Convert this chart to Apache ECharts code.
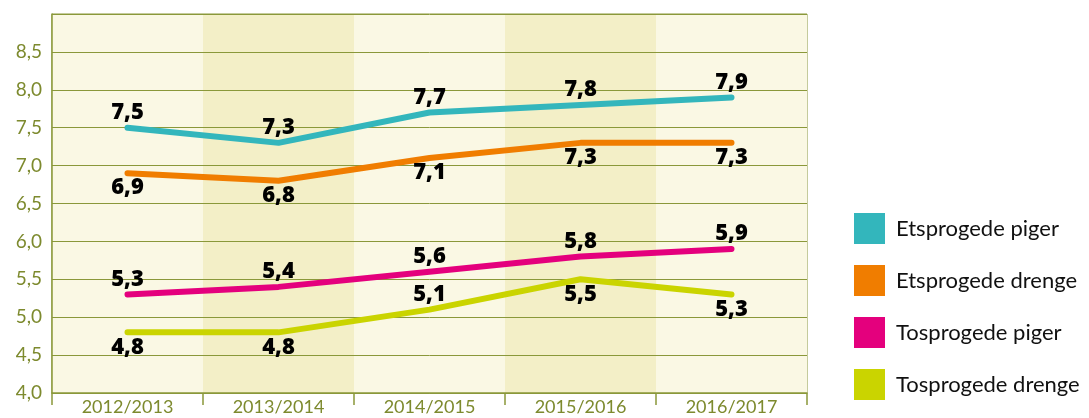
<!DOCTYPE html>
<html>
<head>
<meta charset="utf-8">
<script src="https://cdn.jsdelivr.net/npm/echarts@6/dist/echarts.min.js"></script>
<style>
    html, body { margin: 0; padding: 0; background: #fff; }
    #chart { width: 1089px; height: 418px; }
</style>
</head>
<body>
<div id="chart"></div>
<script>
// data
const categories = ['2012/2013', '2013/2014', '2014/2015', '2015/2016', '2016/2017']
const etsprogedePiger = [7.5, 7.3, 7.7, 7.8, 7.9]
const etsprogedeDrenge = [6.9, 6.8, 7.1, 7.3, 7.3]
const tosprogedePiger = [5.3, 5.4, 5.6, 5.8, 5.9]
const tosprogedeDrenge = [4.8, 4.8, 5.1, 5.5, 5.3]
// label side per point (true = above)
const drengeAbove = [false, false, true, false, false]

const olive = '#8a983a'
const fmt = v => v.toFixed(1).replace('.', ',')

function makeSeries(name, color, values, above) {
    return {
        name: name,
        type: 'line',
        data: values.map((v, i) => ({
            value: v,
            label: { position: (Array.isArray(above) ? above[i] : above) ? 'top' : 'bottom' }
        })),
        symbol: 'circle',
        symbolSize: 0,
        showSymbol: true,
        lineStyle: { color: color, width: 6, cap: 'round', join: 'round' },
        itemStyle: { color: color },
        label: {
            show: true,
            distance: 4,
            formatter: p => fmt(p.value),
            color: '#000',
            fontFamily: 'Open Sans',
            fontWeight: 800,
            fontSize: 22
        }
    }
}

const option = {
    animation: false,
    grid: {
        left: 52,
        top: 14,
        width: 755,
        height: 379,
        show: true,
        borderColor: olive,
        borderWidth: 1
    },
    legend: {
        orient: 'vertical',
        left: 849,
        top: 208,
        icon: 'rect',
        itemWidth: 31,
        itemHeight: 31,
        itemGap: 21,
        textStyle: { fontFamily: 'Lato', fontSize: 22, color: '#111', padding: [0, 0, 0, 6] },
        data: ['Etsprogede piger', 'Etsprogede drenge', 'Tosprogede piger', 'Tosprogede drenge']
    },
    xAxis: {
        type: 'category',
        data: categories,
        boundaryGap: true,
        z: 0,
        axisLine: { lineStyle: { color: olive, width: 1.5 } },
        axisTick: { show: true, length: 12, lineStyle: { color: olive, width: 1.5 } },
        axisLabel: { color: '#7d8a2e', fontFamily: 'Lato', fontSize: 18, margin: 5 },
        splitArea: { show: true, areaStyle: { color: ['#faf8e4', '#f3efc7'] } }
    },
    yAxis: {
        type: 'value',
        min: 4,
        max: 9,
        interval: 0.5,
        z: 1,
        axisLine: { show: true, lineStyle: { color: olive, width: 1.5 } },
        axisTick: { show: false },
        axisLabel: {
            color: '#7d8a2e',
            fontFamily: 'Lato',
            fontSize: 19,
            margin: 10,
            formatter: v => (v >= 9 ? '' : fmt(v))
        },
        splitLine: { lineStyle: { color: olive, width: 1 } }
    },
    series: [
        makeSeries('Etsprogede piger', '#33b6bc', etsprogedePiger, true),
        makeSeries('Etsprogede drenge', '#f07d00', etsprogedeDrenge, false),
        makeSeries('Tosprogede piger', '#e4007d', tosprogedePiger, true),
        makeSeries('Tosprogede drenge', '#cad400', tosprogedeDrenge, drengeAbove)
    ]
}

const chart = echarts.init(document.getElementById('chart'))
chart.setOption(option)
</script>
</body>
</html>
